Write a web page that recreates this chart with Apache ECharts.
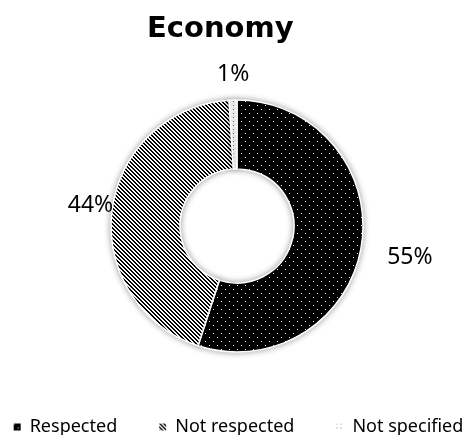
<!DOCTYPE html>
<html>
<head>
<meta charset="UTF-8">
<title>Economy</title>
<style>
  html, body { margin: 0; padding: 0; background: #fff; }
  #chart { width: 475px; height: 435px; }
</style>
<script src="https://cdn.jsdelivr.net/npm/echarts@6/dist/echarts.min.js"></script>
</head>
<body>
<div id="chart"></div>
<script>
const categories = ['Respected', 'Not respected', 'Not specified'];
const shares = [55, 44, 1];

// small tiles used as fills, like the Excel hatch patterns
function tile(size, draw) {
  const c = document.createElement('canvas');
  c.width = size; c.height = size;
  draw(c.getContext('2d'));
  return { image: c, repeat: 'repeat' };
}

const dotsOnBlack = tile(8, g => {
  g.fillStyle = '#000'; g.fillRect(0, 0, 8, 8);
  g.fillStyle = '#fff';
  g.fillRect(1, 1, 1, 1);
  g.fillRect(5, 5, 1, 1);
});

const stripes = tile(4, g => {
  g.fillStyle = '#fff'; g.fillRect(0, 0, 4, 4);
  g.fillStyle = '#000';
  for (let i = 0; i < 4; i++) {
    g.fillRect(i, i, 1, 1);
    g.fillRect((i + 1) % 4, i, 1, 1);
  }
});

const sparseDots = tile(4, g => {
  g.fillStyle = '#fff'; g.fillRect(0, 0, 4, 4);
  g.fillStyle = '#777';
  g.fillRect(1, 1, 1, 1);
});

const fills = [dotsOnBlack, stripes, sparseDots];
// per-slice label nudges (Excel "best fit" places them a bit differently)
const labelNudge = [[-7, 8], [34, -2], [28, -4]];

const chart = echarts.init(document.getElementById('chart'), null, { renderer: 'canvas' });

chart.setOption({
  backgroundColor: '#fff',
  animation: false,
  title: {
    text: 'Economy',
    left: 147,
    top: 15,
    padding: 0,
    textStyle: { fontFamily: 'DejaVu Sans', fontWeight: 'bold', fontSize: 29, color: '#000' }
  },
  legend: {
    top: 413,
    left: 'center',
    itemWidth: 9,
    itemHeight: 9,
    itemGap: 40,
    icon: 'rect',
    textStyle: { fontFamily: 'Noto Sans', fontSize: 18, color: '#000', padding: [0, 0, 0, 3] },
    data: categories
  },
  series: [{
    type: 'pie',
    center: [237, 226],
    radius: [57, 126],
    startAngle: 90,
    clockwise: true,
    avoidLabelOverlap: false,
    itemStyle: {
      borderColor: '#fff',
      borderWidth: 1.5,
      shadowBlur: 6,
      shadowColor: 'rgba(0,0,0,0.35)'
    },
    label: {
      position: 'outside',
      fontFamily: 'Noto Sans',
      fontSize: 23,
      color: '#000',
      formatter: p => p.value + '%'
    },
    labelLine: { show: false, length: 22, length2: 6 },
    labelLayout: p => ({ dx: labelNudge[p.dataIndex][0], dy: labelNudge[p.dataIndex][1] }),
    data: categories.map((name, i) => ({
      name,
      value: shares[i],
      itemStyle: { color: fills[i] }
    }))
  }]
});
</script>
</body>
</html>
